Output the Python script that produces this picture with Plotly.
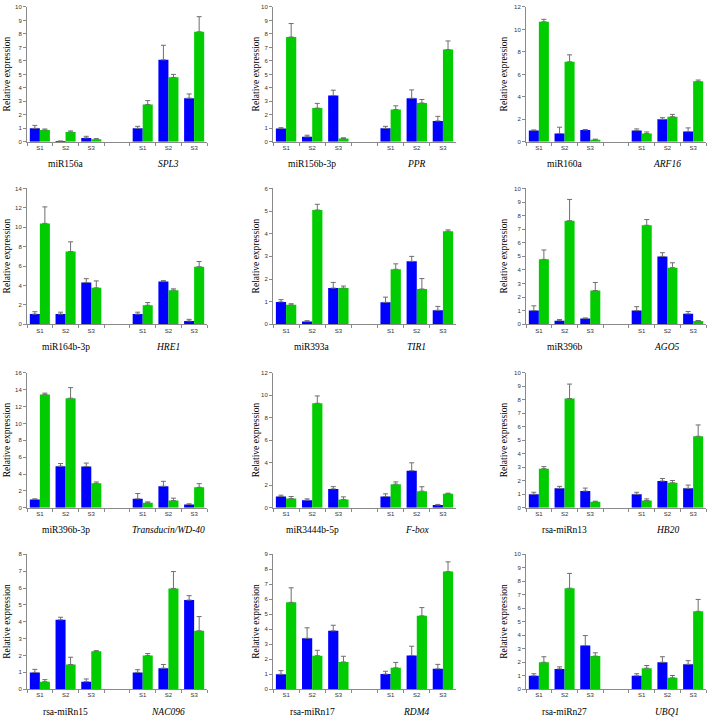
import plotly.graph_objects as go

stages = ["S1", "S2", "S3"]

# ---- Row 1 ----
p1_names = ["miR156a", "<i>SPL3</i>"]
p1_blue = [1.0, 0.05, 0.29, 1.0, 6.08, 3.24]
p1_blue_err = [0.22, 0.0, 0.12, 0.15, 1.08, 0.31]
p1_green = [0.88, 0.73, 0.2, 2.77, 4.78, 8.16]
p1_green_err = [0.07, 0.08, 0.04, 0.29, 0.22, 1.12]
p1_yaxis = [10, 1]

p2_names = ["miR156b-3p", "<i>PPR</i>"]
p2_blue = [0.98, 0.37, 3.43, 1.0, 3.23, 1.55]
p2_blue_err = [0.07, 0.12, 0.4, 0.15, 0.62, 0.34]
p2_green = [7.77, 2.5, 0.25, 2.4, 2.88, 6.84]
p2_green_err = [1.0, 0.35, 0.05, 0.27, 0.26, 0.64]
p2_yaxis = [10, 1]

p3_names = ["miR160a", "<i>ARF16</i>"]
p3_blue = [1.0, 0.74, 1.06, 1.0, 2.0, 0.91]
p3_blue_err = [0.06, 0.56, 0.04, 0.15, 0.15, 0.33]
p3_green = [10.68, 7.12, 0.18, 0.74, 2.24, 5.38]
p3_green_err = [0.22, 0.62, 0.06, 0.14, 0.2, 0.12]
p3_yaxis = [12, 2]

# ---- Row 2 ----
p4_names = ["miR164b-3p", "<i>HRE1</i>"]
p4_blue = [1.05, 1.05, 4.3, 1.05, 4.4, 0.34]
p4_blue_err = [0.25, 0.2, 0.4, 0.2, 0.1, 0.17]
p4_green = [10.4, 7.5, 3.76, 1.96, 3.52, 5.93]
p4_green_err = [1.7, 1.0, 0.71, 0.28, 0.13, 0.54]
p4_yaxis = [14, 2]

p5_names = ["miR393a", "<i>TIR1</i>"]
p5_blue = [0.99, 0.12, 1.6, 0.97, 2.78, 0.62]
p5_blue_err = [0.1, 0.04, 0.25, 0.23, 0.22, 0.17]
p5_green = [0.86, 5.05, 1.6, 2.43, 1.56, 4.11]
p5_green_err = [0.05, 0.25, 0.09, 0.24, 0.46, 0.06]
p5_yaxis = [6, 1]

p6_names = ["miR396b", "<i>AGO5</i>"]
p6_blue = [1.01, 0.27, 0.42, 1.01, 5.0, 0.77]
p6_blue_err = [0.35, 0.08, 0.05, 0.29, 0.27, 0.17]
p6_green = [4.78, 7.63, 2.49, 7.29, 4.17, 0.25]
p6_green_err = [0.69, 1.56, 0.59, 0.42, 0.36, 0.03]
p6_yaxis = [10, 1]

# ---- Row 3 ----
p7_names = ["miR396b-3p", "<i>Transducin/WD-40</i>"]
p7_blue = [0.98, 4.94, 4.9, 1.06, 2.55, 0.39]
p7_blue_err = [0.08, 0.31, 0.4, 0.63, 0.59, 0.08]
p7_green = [13.45, 13.0, 2.9, 0.59, 0.86, 2.43]
p7_green_err = [0.15, 1.25, 0.16, 0.11, 0.28, 0.43]
p7_yaxis = [16, 2]

p8_names = ["miR3444b-5p", "<i>F-box</i>"]
p8_blue = [1.0, 0.68, 1.68, 1.0, 3.3, 0.24]
p8_blue_err = [0.12, 0.11, 0.2, 0.24, 0.7, 0.06]
p8_green = [0.82, 9.3, 0.74, 2.1, 1.48, 1.24]
p8_green_err = [0.18, 0.65, 0.23, 0.2, 0.39, 0.06]
p8_yaxis = [12, 2]

p9_names = ["rsa-miRn13", "<i>HB20</i>"]
p9_blue = [1.0, 1.44, 1.24, 1.0, 1.98, 1.44]
p9_blue_err = [0.15, 0.15, 0.22, 0.15, 0.19, 0.24]
p9_green = [2.9, 8.1, 0.44, 0.54, 1.85, 5.3]
p9_green_err = [0.15, 1.07, 0.05, 0.12, 0.17, 0.84]
p9_yaxis = [10, 1]

# ---- Row 4 ----
p10_names = ["rsa-miRn15", "<i>NAC096</i>"]
p10_blue = [1.0, 4.12, 0.45, 1.0, 1.25, 5.29]
p10_blue_err = [0.18, 0.15, 0.16, 0.16, 0.22, 0.26]
p10_green = [0.45, 1.47, 2.25, 2.0, 5.98, 3.47]
p10_green_err = [0.12, 0.43, 0.04, 0.12, 1.0, 0.84]
p10_yaxis = [8, 1]

p11_names = ["rsa-miRn17", "<i>RDM4</i>"]
p11_blue = [1.0, 3.4, 3.9, 1.01, 2.25, 1.36]
p11_blue_err = [0.24, 0.7, 0.37, 0.19, 0.62, 0.3]
p11_green = [5.8, 2.24, 1.82, 1.43, 4.9, 7.85]
p11_green_err = [0.97, 0.36, 0.38, 0.36, 0.55, 0.65]
p11_yaxis = [9, 1]

p12_names = ["rsa-miRn27", "<i>UBQ1</i>"]
p12_blue = [1.0, 1.51, 3.24, 1.0, 2.0, 1.85]
p12_blue_err = [0.15, 0.15, 0.74, 0.15, 0.41, 0.27]
p12_green = [2.0, 7.49, 2.46, 1.56, 0.85, 5.78]
p12_green_err = [0.41, 1.1, 0.24, 0.2, 0.17, 0.88]
p12_yaxis = [10, 1]

panels = [
    (p1_names, p1_blue, p1_blue_err, p1_green, p1_green_err, p1_yaxis),
    (p2_names, p2_blue, p2_blue_err, p2_green, p2_green_err, p2_yaxis),
    (p3_names, p3_blue, p3_blue_err, p3_green, p3_green_err, p3_yaxis),
    (p4_names, p4_blue, p4_blue_err, p4_green, p4_green_err, p4_yaxis),
    (p5_names, p5_blue, p5_blue_err, p5_green, p5_green_err, p5_yaxis),
    (p6_names, p6_blue, p6_blue_err, p6_green, p6_green_err, p6_yaxis),
    (p7_names, p7_blue, p7_blue_err, p7_green, p7_green_err, p7_yaxis),
    (p8_names, p8_blue, p8_blue_err, p8_green, p8_green_err, p8_yaxis),
    (p9_names, p9_blue, p9_blue_err, p9_green, p9_green_err, p9_yaxis),
    (p10_names, p10_blue, p10_blue_err, p10_green, p10_green_err, p10_yaxis),
    (p11_names, p11_blue, p11_blue_err, p11_green, p11_green_err, p11_yaxis),
    (p12_names, p12_blue, p12_blue_err, p12_green, p12_green_err, p12_yaxis),
]

W, H = 708, 722
col_px = [(27, 207), (273, 456), (526, 706)]
row_px = [(4, 140), (187, 324), (373, 509), (556, 692)]
title_x_px = [7, 256, 504]

BLUE = "#0000ff"
GREEN = "#00cc00"
AXIS = "#8a8a8a"
ERR = "#6e6e6e"
TICKFONT = dict(family="Liberation Sans, Arial, sans-serif", size=6, color="#333333")
SERIF = "Liberation Serif, Times New Roman, DejaVu Serif, serif"

group1 = list(stages)
group2 = [f" {s} " for s in stages]
cats = group1 + ["  "] + group2
xs = group1 + group2

fig = go.Figure()
annotations = []
layout_axes = {}

for k, (names, blue, berr, green, gerr, yax) in enumerate(panels):
    r, c = divmod(k, 3)
    n = k + 1
    sfx = "" if n == 1 else str(n)
    xa, ya = "x" + sfx, "y" + sfx
    for vals, errs, color in ((blue, berr, BLUE), (green, gerr, GREEN)):
        fig.add_trace(go.Bar(
            x=xs, y=vals,
            error_y=dict(type="data", array=errs, arrayminus=[0] * len(errs),
                         symmetric=False, color=ERR, thickness=1, width=2.5),
            marker=dict(color=color, line=dict(width=0)),
            xaxis=xa, yaxis=ya, showlegend=False, hoverinfo="skip",
        ))
    x0, x1 = col_px[c]
    y0, y1 = row_px[r]
    layout_axes["xaxis" + sfx] = dict(
        domain=[x0 / W, x1 / W], anchor=ya, type="category",
        categoryorder="array", categoryarray=cats, range=[-0.5, 6.5],
        showline=True, linecolor=AXIS, linewidth=1,
        ticks="outside", tickson="boundaries", ticklen=3, tickcolor=AXIS,
        tickfont=TICKFONT, showgrid=False, zeroline=False, fixedrange=True,
    )
    layout_axes["yaxis" + sfx] = dict(
        domain=[1 - y1 / H, 1 - y0 / H], anchor=xa,
        range=[0, yax[0]], tick0=0, dtick=yax[1],
        showline=True, linecolor=AXIS, linewidth=1,
        ticks="outside", ticklen=3, tickcolor=AXIS,
        tickfont=TICKFONT, showgrid=False, zeroline=False, fixedrange=True,
    )
    for name, xc in ((names[0], group1[1]), (names[1], group2[1])):
        annotations.append(dict(
            x=xc, xref=xa, y=1 - (y1 + 22.5) / H, yref="paper",
            text=name, showarrow=False, xanchor="center", yanchor="middle",
            font=dict(family=SERIF, size=9.5, color="#000000"),
        ))
    annotations.append(dict(
        x=title_x_px[c] / W, xref="paper", y=1 - ((y0 + y1) / 2) / H, yref="paper",
        text="Relative expression", textangle=-90, showarrow=False,
        xanchor="center", yanchor="middle",
        font=dict(family=SERIF, size=9.5, color="#000000"),
    ))

fig.update_layout(
    width=W, height=H,
    margin=dict(l=0, r=0, t=0, b=0),
    paper_bgcolor="white", plot_bgcolor="white",
    barmode="group", bargap=0.22, bargroupgap=0,
    annotations=annotations,
    **layout_axes,
)

fig.write_html(
    "out.html",
    config={"displayModeBar": False},
    post_script="document.body.style.margin='0';document.body.style.padding='0';"
                "document.body.style.overflow='hidden';",
)
